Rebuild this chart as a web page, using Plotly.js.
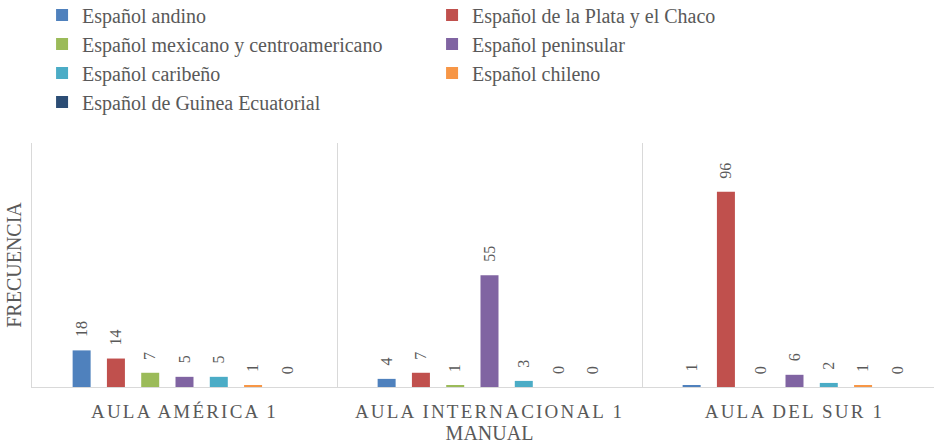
<!DOCTYPE html>
<html>
<head>
<meta charset="utf-8">
<script src="https://cdn.plot.ly/plotly-3.0.1.min.js"></script>
<style>
html, body { margin: 0; padding: 0; overflow: hidden; background: #fff; }
#chart { width: 950px; height: 444px; }
text { font-family: 'Liberation Serif', serif !important; }
.xtick text { letter-spacing: 2.2px; }
#kick { position: fixed; right: 2px; bottom: 2px; margin: 0; font-family: 'DejaVu Sans Mono', monospace; font-size: 6px; color: transparent; }
</style>
</head>
<body>
<div id="chart"></div>
<pre id="kick"></pre>
<script>
const categories = ['AULA AMÉRICA 1', 'AULA INTERNACIONAL 1', 'AULA DEL SUR 1'];
const seriesNames = [
  'Español andino',
  'Español de la Plata y el Chaco',
  'Español mexicano y centroamericano',
  'Español peninsular',
  'Español caribeño',
  'Español chileno',
  'Español de Guinea Ecuatorial'
];
const andino = [18, 4, 1];
const plata = [14, 7, 96];
const mexicano = [7, 1, 0];
const peninsular = [5, 55, 6];
const caribeno = [5, 3, 2];
const chileno = [1, 0, 1];
const guinea = [0, 0, 0];
const seriesValues = [andino, plata, mexicano, peninsular, caribeno, chileno, guinea];
const seriesColors = ['#4F81BD', '#C0504D', '#9BBB59', '#8064A2', '#4BACC6', '#F79646', '#2C4D75'];

const bargap = 0.213;
const bargroupgap = 0.475;
const textColor = '#595959';
const serif = 'Liberation Serif';

const traces = seriesNames.map((name, i) => ({
  type: 'bar',
  name: name,
  x: categories,
  y: seriesValues[i],
  marker: { color: seriesColors[i] },
  hoverinfo: 'x+y+name'
}));

const nSeries = seriesNames.length;
const slot = (1 - bargap) / nSeries;
const annotations = [];
seriesValues.forEach((vals, i) => {
  vals.forEach((v, j) => {
    annotations.push({
      xref: 'x', yref: 'y',
      x: j + (i - (nSeries - 1) / 2) * slot,
      y: v,
      text: String(v),
      textangle: -90,
      showarrow: false,
      xanchor: 'center',
      yanchor: 'bottom',
      yshift: 11,
      font: { family: serif, size: 16, color: textColor }
    });
  });
});

const layout = {
  width: 950,
  height: 444,
  margin: { l: 32, r: 3, t: 143, b: 57, autoexpand: false },
  paper_bgcolor: '#ffffff',
  plot_bgcolor: '#ffffff',
  barmode: 'group',
  bargap: bargap,
  bargroupgap: bargroupgap,
  font: { family: serif, color: textColor },
  showlegend: true,
  legend: {
    orientation: 'h',
    x: 0.011, xanchor: 'left',
    y: 1.604, yanchor: 'top',
    entrywidth: 345, entrywidthmode: 'pixels',
    font: { family: serif, size: 20, color: textColor },
    traceorder: 'normal'
  },
  xaxis: {
    type: 'category',
    tickson: 'boundaries',
    showgrid: true,
    gridcolor: '#d9d9d9',
    showline: true,
    linecolor: '#d9d9d9',
    ticks: '',
    tickfont: { family: serif, size: 19, color: textColor },
    ticklabelstandoff: 7,
    title: { text: 'MANUAL', font: { family: serif, size: 20, color: textColor }, standoff: 11 },
    fixedrange: true
  },
  yaxis: {
    range: [0, 120],
    showgrid: false,
    zeroline: false,
    showline: true,
    linecolor: '#d9d9d9',
    showticklabels: false,
    ticks: '',
    title: { text: 'FRECUENCIA', font: { family: serif, size: 20, color: textColor }, standoff: 4 },
    fixedrange: true
  },
  annotations: annotations
};

function kick() {
  const seen = {};
  document.querySelectorAll('#chart text').forEach(t => {
    const c = t.getAttribute('class');
    if (!seen[c]) { seen[c] = 1; getComputedStyle(t).fontFamily; }
  });
  const k = document.getElementById('kick');
  k.textContent = k.textContent ? '' : '.';
}

Plotly.newPlot('chart', traces, layout, { displayModeBar: false, responsive: false }).then(() => {
  kick();
  setTimeout(kick, 80);
  setTimeout(kick, 300);
});
</script>
</body>
</html>
